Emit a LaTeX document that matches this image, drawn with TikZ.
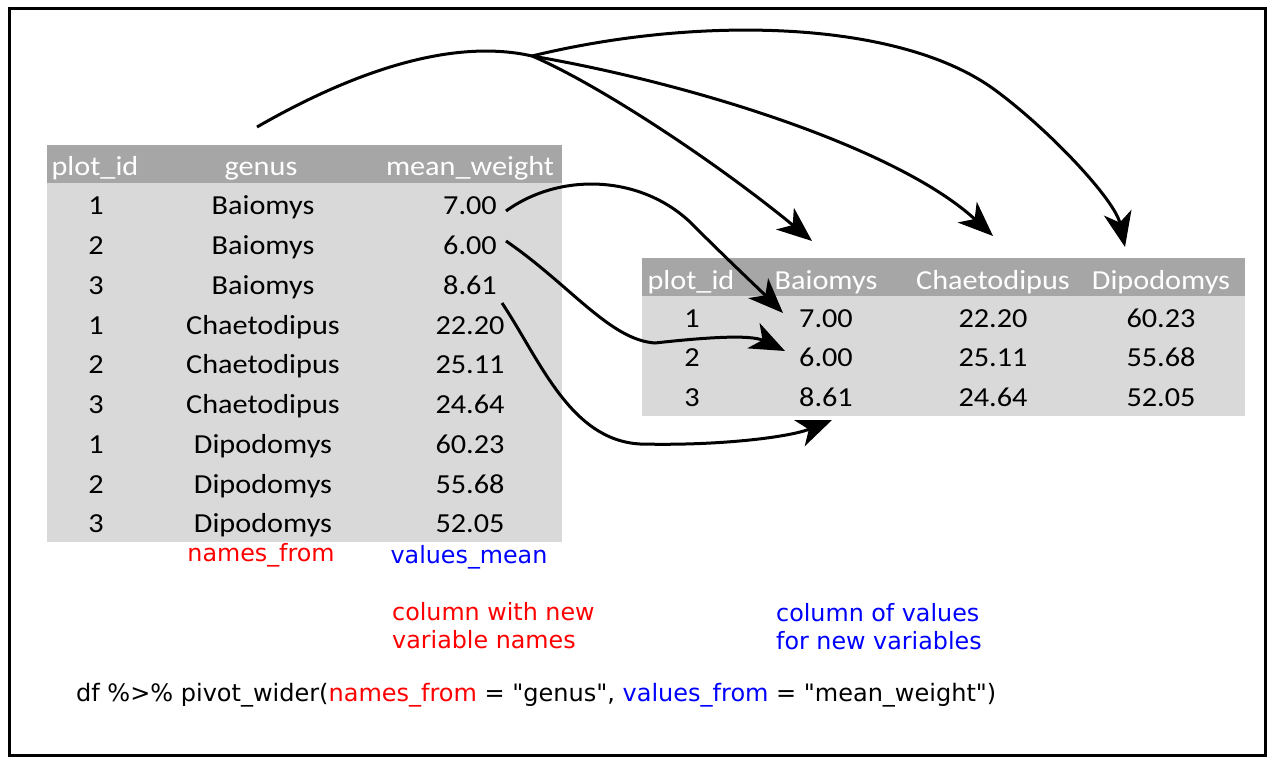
\documentclass[tikz,border=0pt]{standalone}
\usepackage{fontspec}
\usetikzlibrary{arrows.meta}
\newfontfamily\tabfont[FakeStretch=1.1]{Carlito}
\newfontfamily\lblfont{DejaVu Sans}
\definecolor{hdrgray}{HTML}{A6A6A6}
\definecolor{bodygray}{HTML}{D9D9D9}
\definecolor{pured}{HTML}{FF0000}
\definecolor{pureblue}{HTML}{0000FF}

\begin{document}
\begin{tikzpicture}[x=1pt,y=-1pt,
  cell/.style={anchor=base, inner sep=0pt, font=\tabfont\fontsize{27.5}{30}\selectfont, text=black},
  hcell/.style={cell, text=white},
  lbl/.style={anchor=base, inner sep=0pt, font=\lblfont\fontsize{23.8}{28}\selectfont},
  lblleft/.style={lbl, anchor=base west},
  link/.style={line width=3pt, -{Stealth[length=35pt,width=28pt,inset=10pt]}},
  plainlink/.style={line width=3pt},
]
\useasboundingbox (0,0) rectangle (1272,762);
\draw[line width=3pt] (9.5,8.5) rectangle (1265.5,755.5);

% long table
\fill[hdrgray] (47,145) rectangle (562,183);
\fill[bodygray] (47,183) rectangle (562,542);
\node[hcell] (lh1) at (95,176) {plot\_id};
\node[hcell] (lh2) at (261,176) {genus};
\node[hcell] (lh3) at (470,176) {mean\_weight};
\foreach \i/\p/\g/\w in {1/1/Baiomys/7.00, 2/2/Baiomys/6.00, 3/3/Baiomys/8.61,
    4/1/Chaetodipus/22.20, 5/2/Chaetodipus/25.11, 6/3/Chaetodipus/24.64,
    7/1/Dipodomys/60.23, 8/2/Dipodomys/55.68, 9/3/Dipodomys/52.05} {
  \node[cell] (lp\i) at (96,175+39.75*\i) {\p};
  \node[cell] (lg\i) at (263,175+39.75*\i) {\g};
  \node[cell] (lw\i) at (470,175+39.75*\i) {\w};
}

% wide table
\fill[hdrgray] (642,258) rectangle (1245,296);
\fill[bodygray] (642,296) rectangle (1245,416);
\node[hcell] (rh1) at (691,289) {plot\_id};
\node[hcell] (rh2) at (826,289) {Baiomys};
\node[hcell] (rh3) at (993,289) {Chaetodipus};
\node[hcell] (rh4) at (1161,289) {Dipodomys};
\foreach \i/\p/\a/\b/\c in {1/1/7.00/22.20/60.23, 2/2/6.00/25.11/55.68, 3/3/8.61/24.64/52.05} {
  \node[cell] (rp\i) at (692,287.5+39.5*\i) {\p};
  \node[cell] (ra\i) at (826,287.5+39.5*\i) {\a};
  \node[cell] (rb\i) at (993,287.5+39.5*\i) {\b};
  \node[cell] (rc\i) at (1161,287.5+39.5*\i) {\c};
}

% argument labels
\node[lbl, text=pured] (nf) at (261,561) {names\_from};
\node[lbl, text=pureblue] (vm) at (469,563) {values\_mean};
\node[lblleft, text=pured] (cn1) at (392,620) {column with new};
\node[lblleft, text=pured] (cn2) at (392,648) {variable names};
\node[lblleft, text=pureblue] (cv1) at (776,621) {column of values};
\node[lblleft, text=pureblue] (cv2) at (776,649) {for new variables};

\node[anchor=base west, inner sep=0pt, font=\lblfont\fontsize{24}{28}\selectfont] (code) at (76,701)
  {df \%>\% pivot\_wider(\textcolor{pured}{names\_from} = "genus", \textcolor{pureblue}{values\_from} = "mean\_weight")};

% genus header fans out to the new column names
\coordinate (gstart) at (257,127);
\coordinate (hub) at (532,56);
\coordinate (tipA) at (812,241);
\coordinate (tipB) at (993,236);
\coordinate (tipC) at (1125,247);
\draw[plainlink] (gstart) .. controls (330,85) and (440,35) .. (hub);
\draw[link] (hub) .. controls (600,85) and (720,165) .. (tipA);
\draw[link] (hub) .. controls (700,85) and (900,150) .. (tipB);
\draw[link] (hub) .. controls (700,15) and (900,20) .. (995,90)
  .. controls (1050,130.5) and (1115,200) .. (tipC);

% values move into the Baiomys column
\coordinate (v1) at (506,211);
\coordinate (v2) at (506,241);
\coordinate (v3) at (502,303);
\coordinate (t1) at (783,313);
\coordinate (t2) at (785,351);
\coordinate (t3) at (832,420);
\draw[link] (v1) .. controls (560,172) and (640,175) .. (690,222)
  .. controls (730,262) and (760,290) .. (t1);
\draw[link] (v2) .. controls (570,285) and (610,340) .. (655,343)
  .. controls (700,338) and (750,334) .. (t2);
\draw[link] (v3) .. controls (540,360) and (570,440) .. (640,444)
  .. controls (720,446) and (790,437) .. (t3);
\end{tikzpicture}
\end{document}
